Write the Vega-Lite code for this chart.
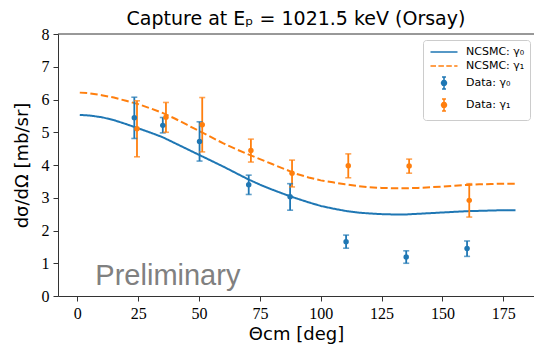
{
  "$schema": "https://vega.github.io/schema/vega-lite/v6.json",
  "width": 476,
  "height": 262,
  "autosize": {"type": "none"},
  "padding": {"left": 58, "top": 34, "right": 0, "bottom": 54},
  "background": "white",
  "title": {"text": "Capture at Eₚ = 1021.5 keV (Orsay)", "font": "DejaVu Sans", "fontSize": 19, "fontWeight": "normal", "color": "#000000", "anchor": "middle", "offset": 3, "baseline": "bottom", "dy": 25},
  "datasets": {
    "theory": [
      {"theta": 1, "y": 5.53, "series": "NCSMC: γ₀"},
      {"theta": 5, "y": 5.51, "series": "NCSMC: γ₀"},
      {"theta": 10, "y": 5.46, "series": "NCSMC: γ₀"},
      {"theta": 15, "y": 5.37, "series": "NCSMC: γ₀"},
      {"theta": 20, "y": 5.25, "series": "NCSMC: γ₀"},
      {"theta": 25, "y": 5.12, "series": "NCSMC: γ₀"},
      {"theta": 30, "y": 4.99, "series": "NCSMC: γ₀"},
      {"theta": 35, "y": 4.85, "series": "NCSMC: γ₀"},
      {"theta": 40, "y": 4.67, "series": "NCSMC: γ₀"},
      {"theta": 45, "y": 4.49, "series": "NCSMC: γ₀"},
      {"theta": 50, "y": 4.31, "series": "NCSMC: γ₀"},
      {"theta": 55, "y": 4.13, "series": "NCSMC: γ₀"},
      {"theta": 60, "y": 3.95, "series": "NCSMC: γ₀"},
      {"theta": 65, "y": 3.76, "series": "NCSMC: γ₀"},
      {"theta": 70, "y": 3.57, "series": "NCSMC: γ₀"},
      {"theta": 75, "y": 3.40, "series": "NCSMC: γ₀"},
      {"theta": 80, "y": 3.25, "series": "NCSMC: γ₀"},
      {"theta": 85, "y": 3.11, "series": "NCSMC: γ₀"},
      {"theta": 90, "y": 2.98, "series": "NCSMC: γ₀"},
      {"theta": 95, "y": 2.86, "series": "NCSMC: γ₀"},
      {"theta": 100, "y": 2.75, "series": "NCSMC: γ₀"},
      {"theta": 105, "y": 2.67, "series": "NCSMC: γ₀"},
      {"theta": 110, "y": 2.60, "series": "NCSMC: γ₀"},
      {"theta": 115, "y": 2.55, "series": "NCSMC: γ₀"},
      {"theta": 120, "y": 2.52, "series": "NCSMC: γ₀"},
      {"theta": 125, "y": 2.50, "series": "NCSMC: γ₀"},
      {"theta": 130, "y": 2.49, "series": "NCSMC: γ₀"},
      {"theta": 135, "y": 2.49, "series": "NCSMC: γ₀"},
      {"theta": 140, "y": 2.51, "series": "NCSMC: γ₀"},
      {"theta": 145, "y": 2.53, "series": "NCSMC: γ₀"},
      {"theta": 150, "y": 2.55, "series": "NCSMC: γ₀"},
      {"theta": 155, "y": 2.57, "series": "NCSMC: γ₀"},
      {"theta": 160, "y": 2.59, "series": "NCSMC: γ₀"},
      {"theta": 165, "y": 2.60, "series": "NCSMC: γ₀"},
      {"theta": 170, "y": 2.61, "series": "NCSMC: γ₀"},
      {"theta": 175, "y": 2.62, "series": "NCSMC: γ₀"},
      {"theta": 180, "y": 2.62, "series": "NCSMC: γ₀"},
      {"theta": 1, "y": 6.21, "series": "NCSMC: γ₁"},
      {"theta": 5, "y": 6.19, "series": "NCSMC: γ₁"},
      {"theta": 10, "y": 6.13, "series": "NCSMC: γ₁"},
      {"theta": 15, "y": 6.06, "series": "NCSMC: γ₁"},
      {"theta": 20, "y": 5.96, "series": "NCSMC: γ₁"},
      {"theta": 25, "y": 5.86, "series": "NCSMC: γ₁"},
      {"theta": 30, "y": 5.73, "series": "NCSMC: γ₁"},
      {"theta": 35, "y": 5.59, "series": "NCSMC: γ₁"},
      {"theta": 40, "y": 5.42, "series": "NCSMC: γ₁"},
      {"theta": 45, "y": 5.23, "series": "NCSMC: γ₁"},
      {"theta": 50, "y": 5.04, "series": "NCSMC: γ₁"},
      {"theta": 55, "y": 4.85, "series": "NCSMC: γ₁"},
      {"theta": 60, "y": 4.66, "series": "NCSMC: γ₁"},
      {"theta": 65, "y": 4.49, "series": "NCSMC: γ₁"},
      {"theta": 70, "y": 4.33, "series": "NCSMC: γ₁"},
      {"theta": 75, "y": 4.18, "series": "NCSMC: γ₁"},
      {"theta": 80, "y": 4.03, "series": "NCSMC: γ₁"},
      {"theta": 85, "y": 3.88, "series": "NCSMC: γ₁"},
      {"theta": 90, "y": 3.73, "series": "NCSMC: γ₁"},
      {"theta": 95, "y": 3.62, "series": "NCSMC: γ₁"},
      {"theta": 100, "y": 3.53, "series": "NCSMC: γ₁"},
      {"theta": 105, "y": 3.47, "series": "NCSMC: γ₁"},
      {"theta": 110, "y": 3.41, "series": "NCSMC: γ₁"},
      {"theta": 115, "y": 3.36, "series": "NCSMC: γ₁"},
      {"theta": 120, "y": 3.32, "series": "NCSMC: γ₁"},
      {"theta": 125, "y": 3.30, "series": "NCSMC: γ₁"},
      {"theta": 130, "y": 3.29, "series": "NCSMC: γ₁"},
      {"theta": 135, "y": 3.29, "series": "NCSMC: γ₁"},
      {"theta": 140, "y": 3.30, "series": "NCSMC: γ₁"},
      {"theta": 145, "y": 3.32, "series": "NCSMC: γ₁"},
      {"theta": 150, "y": 3.34, "series": "NCSMC: γ₁"},
      {"theta": 155, "y": 3.37, "series": "NCSMC: γ₁"},
      {"theta": 160, "y": 3.39, "series": "NCSMC: γ₁"},
      {"theta": 165, "y": 3.41, "series": "NCSMC: γ₁"},
      {"theta": 170, "y": 3.42, "series": "NCSMC: γ₁"},
      {"theta": 175, "y": 3.43, "series": "NCSMC: γ₁"},
      {"theta": 180, "y": 3.43, "series": "NCSMC: γ₁"}
    ],
    "measured": [
      {"theta": 23.4, "y": 5.44, "lo": 4.81, "hi": 6.07, "series": "Data: γ₀"},
      {"theta": 35.1, "y": 5.21, "lo": 4.98, "hi": 5.45, "series": "Data: γ₀"},
      {"theta": 50.2, "y": 4.72, "lo": 4.12, "hi": 5.32, "series": "Data: γ₀"},
      {"theta": 70.4, "y": 3.40, "lo": 3.10, "hi": 3.69, "series": "Data: γ₀"},
      {"theta": 87.4, "y": 3.03, "lo": 2.62, "hi": 3.43, "series": "Data: γ₀"},
      {"theta": 110.4, "y": 1.66, "lo": 1.46, "hi": 1.86, "series": "Data: γ₀"},
      {"theta": 135.1, "y": 1.19, "lo": 1.00, "hi": 1.38, "series": "Data: γ₀"},
      {"theta": 160.1, "y": 1.45, "lo": 1.21, "hi": 1.68, "series": "Data: γ₀"},
      {"theta": 24.5, "y": 5.11, "lo": 4.25, "hi": 5.96, "series": "Data: γ₁"},
      {"theta": 36.4, "y": 5.46, "lo": 5.00, "hi": 5.91, "series": "Data: γ₁"},
      {"theta": 51.3, "y": 5.23, "lo": 4.40, "hi": 6.06, "series": "Data: γ₁"},
      {"theta": 71.3, "y": 4.44, "lo": 4.09, "hi": 4.79, "series": "Data: γ₁"},
      {"theta": 88.2, "y": 3.75, "lo": 3.33, "hi": 4.15, "series": "Data: γ₁"},
      {"theta": 111.3, "y": 3.98, "lo": 3.61, "hi": 4.34, "series": "Data: γ₁"},
      {"theta": 136.3, "y": 3.97, "lo": 3.75, "hi": 4.18, "series": "Data: γ₁"},
      {"theta": 161.0, "y": 2.92, "lo": 2.41, "hi": 3.43, "series": "Data: γ₁"}
    ],
    "notes": [
      {"theta": 7.4, "y": 0.33, "label": "Preliminary"}
    ],
    "spine": [
      {"y": 8}
    ]
  },
  "layer": [
    {
      "data": {"name": "spine"},
      "mark": {"type": "rule", "color": "#333333", "strokeWidth": 1},
      "encoding": {
        "y": {"field": "y", "type": "quantitative", "title": "dσ/dΩ [mb/sr]",
              "scale": {"domain": [0, 8], "nice": false},
              "axis": {"values": [0, 1, 2, 3, 4, 5, 6, 7, 8], "labelOverlap": false, "tickCount": 9}}
      }
    },
    {
      "data": {"name": "theory"},
      "mark": {"type": "line", "strokeWidth": 2},
      "encoding": {
        "x": {"field": "theta", "type": "quantitative", "title": "Θcm [deg]",
              "scale": {"domain": [-7.95, 187.6], "nice": false, "zero": false},
              "axis": {"values": [0, 25, 50, 75, 100, 125, 150, 175]}},
        "y": {"field": "y", "type": "quantitative", "title": "dσ/dΩ [mb/sr]",
              "scale": {"domain": [0, 8], "nice": false},
              "axis": {"values": [0, 1, 2, 3, 4, 5, 6, 7, 8], "labelOverlap": false, "tickCount": 9}},
        "color": {"field": "series", "type": "nominal",
          "scale": {"domain": ["NCSMC: γ₀", "NCSMC: γ₁", "Data: γ₀", "Data: γ₁"], "range": ["#1f77b4", "#ff7f0e", "#1f77b4", "#ff7f0e"]},
          "legend": {
            "orient": "none", "legendX": 365, "legendY": 6, "direction": "vertical",
            "title": null, "fillColor": "white", "strokeColor": "#cccccc", "cornerRadius": 3, "padding": 5,
            "labelFont": "DejaVu Sans", "labelFontSize": 11, "labelColor": "#000000",
            "symbolSize": 144, "rowPadding": 2, "labelOffset": 15, "symbolOffset": 9,
            "encode": {
              "symbols": {
                "update": {
                  "shape": {"signal": "indexof(datum.value, 'NCSMC') == 0 ? 'M-2.25,0H2.25' : 'M0,-1V1M-0.33,-1H0.33M-0.33,1H0.33M-0.4,0A0.4,0.4 0 1,0 0.4,0A0.4,0.4 0 1,0 -0.4,0'"},
                  "stroke": {"signal": "scale('color', datum.value)"},
                  "fill": {"signal": "scale('color', datum.value)"},
                  "strokeDash": {"signal": "datum.value == 'NCSMC: γ₁' ? [5.5, 2.4] : [1, 0]"},
                  "strokeWidth": {"value": 1.6},
                  "opacity": {"value": 1},
                  "fillOpacity": {"value": 1}
                }
              }
            }
          }},
        "strokeDash": {"field": "series", "type": "nominal",
          "scale": {"domain": ["NCSMC: γ₀", "NCSMC: γ₁"], "range": [[1, 0], [7.4, 3.2]]},
          "legend": null}
      }
    },
    {
      "data": {"name": "measured"},
      "mark": {"type": "rule", "strokeWidth": 1.8},
      "encoding": {
        "x": {"field": "theta", "type": "quantitative", "title": "Θcm [deg]"},
        "y": {"field": "lo", "type": "quantitative", "title": "dσ/dΩ [mb/sr]"},
        "y2": {"field": "hi"},
        "color": {"field": "series", "type": "nominal"}
      }
    },
    {
      "data": {"name": "measured"},
      "mark": {"type": "tick", "orient": "horizontal", "size": 6, "thickness": 1.6},
      "encoding": {
        "x": {"field": "theta", "type": "quantitative", "title": "Θcm [deg]"},
        "y": {"field": "lo", "type": "quantitative", "title": "dσ/dΩ [mb/sr]"},
        "color": {"field": "series", "type": "nominal"}
      }
    },
    {
      "data": {"name": "measured"},
      "mark": {"type": "tick", "orient": "horizontal", "size": 6, "thickness": 1.6},
      "encoding": {
        "x": {"field": "theta", "type": "quantitative", "title": "Θcm [deg]"},
        "y": {"field": "hi", "type": "quantitative", "title": "dσ/dΩ [mb/sr]"},
        "color": {"field": "series", "type": "nominal"}
      }
    },
    {
      "data": {"name": "measured"},
      "mark": {"type": "point", "filled": true, "size": 30, "opacity": 1},
      "encoding": {
        "x": {"field": "theta", "type": "quantitative", "title": "Θcm [deg]"},
        "y": {"field": "y", "type": "quantitative", "title": "dσ/dΩ [mb/sr]"},
        "color": {"field": "series", "type": "nominal"}
      }
    },
    {
      "data": {"name": "notes"},
      "mark": {"type": "text", "align": "left", "baseline": "alphabetic", "font": "Liberation Sans", "fontSize": 29, "color": "#808080"},
      "encoding": {
        "x": {"field": "theta", "type": "quantitative", "title": "Θcm [deg]"},
        "y": {"field": "y", "type": "quantitative", "title": "dσ/dΩ [mb/sr]"},
        "text": {"field": "label"}
      }
    }
  ],
  "config": {
    "view": {"stroke": null},
    "axis": {
      "grid": false,
      "domainColor": "#333333",
      "domainWidth": 1,
      "tickColor": "#333333",
      "tickWidth": 1,
      "tickSize": 5,
      "labelFont": "Liberation Serif",
      "labelFontSize": 16,
      "labelColor": "#000000",
      "labelPadding": 4,
      "titleFont": "DejaVu Sans",
      "titleFontSize": 18,
      "titleFontWeight": "normal",
      "titleColor": "#000000"
    },
    "axisX": {"titlePadding": 4, "labelFlush": false, "labelOverlap": false},
    "axisY": {"titlePadding": 10, "labelOverlap": false}
  }
}
